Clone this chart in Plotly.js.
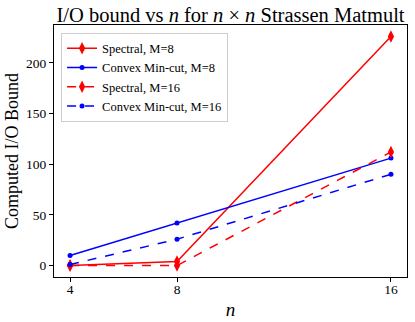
<!DOCTYPE html>
<html>
<head>
<meta charset="utf-8">
<script src="https://cdn.plot.ly/plotly-3.0.1.min.js"></script>
<style>
  html, body { margin: 0; padding: 0; background: #fff; }
  #chart { width: 415px; height: 322px; }
</style>
</head>
<body>
<div id="chart"></div>
<script>
// problem sizes n
const nValues = [4, 8, 16];

// computed I/O bounds
const spectralM8 = [0, 4, 226];
const convexM8 = [10, 42, 106];
const spectralM16 = [0, 0, 112];
const convexM16 = [1, 26, 90];

const seriesNames = ['Spectral, M=8', 'Convex Min-cut, M=8', 'Spectral, M=16', 'Convex Min-cut, M=16'];
const yTicks = [0, 50, 100, 150, 200];

const serif = 'Liberation Serif, Times New Roman, serif';

function spectralTrace(y, name, dash) {
    return {
        x: nValues, y: y, name: name,
        mode: 'lines+markers', type: 'scatter',
        line: { color: '#ff0000', width: 1.5, dash: dash },
        marker: { symbol: 'diamond-tall', size: 9, color: '#ff0000' }
    };
}

function convexTrace(y, name, dash) {
    return {
        x: nValues, y: y, name: name,
        mode: 'lines+markers', type: 'scatter',
        line: { color: '#0000ff', width: 1.5, dash: dash },
        marker: { symbol: 'circle', size: 5, color: '#0000ff' }
    };
}

const data = [
    spectralTrace(spectralM8, seriesNames[0], 'solid'),
    convexTrace(convexM8, seriesNames[1], 'solid'),
    spectralTrace(spectralM16, seriesNames[2], 'dash'),
    convexTrace(convexM16, seriesNames[3], 'dash')
];

const layout = {
    width: 415, height: 322,
    margin: { l: 54, r: 8, t: 25, b: 45 },
    paper_bgcolor: '#ffffff',
    plot_bgcolor: '#ffffff',
    font: { family: serif, color: '#000000', size: 13.5 },
    title: {
        text: 'I/O bound vs <i>n</i> for <i>n</i> × <i>n</i> Strassen Matmult',
        font: { family: serif, size: 20.5 },
        xref: 'paper', x: 0.5, xanchor: 'center',
        yref: 'container', y: 0.955, yanchor: 'middle'
    },
    xaxis: {
        title: { text: '<i>n</i>', font: { family: serif, size: 19 }, standoff: 6 },
        range: [3.4, 16.6],
        tickvals: nValues,
        ticks: 'outside', ticklen: 4, tickcolor: '#000',
        ticklabelstandoff: -4,
        showline: true, linecolor: '#000', linewidth: 1, mirror: true,
        showgrid: false, zeroline: false
    },
    yaxis: {
        title: { text: 'Computed I/O Bound', font: { family: serif, size: 18 }, standoff: 2 },
        range: [-11.3, 237.3],
        tickvals: yTicks,
        ticks: 'outside', ticklen: 4, tickcolor: '#000',
        showline: true, linecolor: '#000', linewidth: 1, mirror: true,
        showgrid: false, zeroline: false
    },
    legend: {
        x: 0.02, y: 0.97, xanchor: 'left', yanchor: 'top',
        bgcolor: '#ffffff', bordercolor: '#cccccc', borderwidth: 1,
        font: { family: serif, size: 12.5 },
        tracegroupgap: 0, itemwidth: 30,
        entrywidth: 150, entrywidthmode: 'pixels'
    },
    showlegend: true
};

Plotly.newPlot('chart', data, layout, { displayModeBar: false, staticPlot: true });
</script>
</body>
</html>
